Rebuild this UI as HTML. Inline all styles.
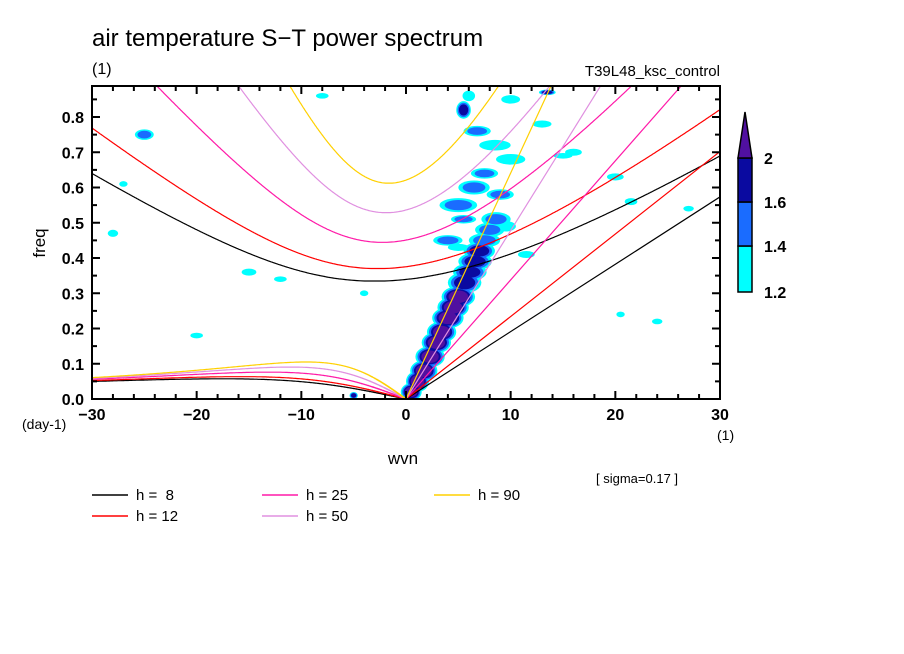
<!DOCTYPE html>
<html><head><meta charset="utf-8"><style>
body{margin:0;background:#fff;}
svg{display:block;font-family:"Liberation Sans",sans-serif;}
</style></head><body>
<svg id="chart" width="904" height="654" viewBox="0 0 904 654">
<defs><clipPath id="pc"><rect x="92" y="86" width="628" height="313"/></clipPath></defs>
<text x="92" y="46" font-size="24">air temperature S−T power spectrum</text>
<text x="92" y="74" font-size="16">(1)</text>
<text x="720" y="76" font-size="15" text-anchor="end">T39L48_ksc_control</text>
<g id="shade" clip-path="url(#pc)"></g>
<g id="curves" clip-path="url(#pc)"></g>
<g id="axes"></g>
<text x="45" y="243" font-size="17" text-anchor="middle" transform="rotate(-90 45 243)">freq</text>
<text x="403" y="464" font-size="17" text-anchor="middle">wvn</text>
<text x="22" y="429" font-size="14">(day-1)</text>
<text x="717" y="440" font-size="14">(1)</text>
<text x="596" y="483" font-size="13">[ sigma=0.17 ]</text>
<g id="colorbar"></g>
<g id="legend"></g>
</svg>
<script>
const NS='http://www.w3.org/2000/svg';
const hValues=[8,12,25,50,90];
const hColors=['#000000','#ff0000','#ff1aa8','#e090e0','#ffd000'];
const xTicks=[-30,-20,-10,0,10,20,30];
const yTicks=[0.0,0.1,0.2,0.3,0.4,0.5,0.6,0.7,0.8];
const levelLabels=['1.2','1.4','1.6','2'];
const levelColors=['#00ffff','#1a6cff','#0a0aa0','#5010a0'];
// blobs: wvn, freq, half-width (wvn), half-height (freq), level
const blobWvn=[0.5,1.1,1.7,2.3,2.9,3.4,4.0,4.5,5.0,5.6,6.1,6.6,7.0,7.5,8.0,8.6,5.0,4.0,6.5,7.5,9.0,10.0,8.5,5.5,6.8,9.5,11.5,6.0,-5.0,2.5,-15,-28,-25,-20,-12,-8,5,10,13,16,20,24,27,15,-27,5.5,-4,13.5,20.5,21.5];
const blobFrq=[0.02,0.05,0.08,0.12,0.16,0.19,0.23,0.26,0.29,0.33,0.36,0.39,0.42,0.45,0.48,0.51,0.55,0.45,0.60,0.64,0.58,0.68,0.72,0.82,0.76,0.49,0.41,0.86,0.01,0.17,0.36,0.47,0.75,0.18,0.34,0.86,0.43,0.85,0.78,0.70,0.63,0.22,0.54,0.69,0.61,0.51,0.30,0.87,0.24,0.56];
const blobRw=[1.0,1.1,1.3,1.4,1.4,1.4,1.5,1.5,1.6,1.6,1.6,1.6,1.5,1.5,1.4,1.4,1.8,1.4,1.5,1.3,1.3,1.4,1.5,0.7,1.3,1.0,0.8,0.6,0.4,0.8,0.7,0.5,0.9,0.6,0.6,0.6,1.0,0.9,0.9,0.8,0.8,0.5,0.5,0.9,0.4,1.2,0.4,0.8,0.4,0.6];
const blobRf=[0.025,0.03,0.03,0.03,0.03,0.03,0.03,0.03,0.03,0.03,0.025,0.025,0.025,0.02,0.02,0.02,0.02,0.015,0.02,0.015,0.015,0.015,0.015,0.025,0.015,0.015,0.01,0.015,0.01,0.01,0.01,0.01,0.015,0.008,0.008,0.008,0.01,0.012,0.01,0.01,0.01,0.008,0.008,0.008,0.008,0.012,0.008,0.008,0.008,0.01];
const blobLev=[3,3,3,3,3,3,3,3,3,2,2,2,2,1,1,1,1,1,1,1,1,0,0,2,1,0,0,0,2,0,0,0,1,0,0,0,0,0,0,0,0,0,0,0,0,1,0,2,0,0];

const X=s=>406+s*(628/60);
const Y=f=>399-f*352.5;
function mk(tag,attrs,parent){const e=document.createElementNS(NS,tag);for(const k in attrs)e.setAttribute(k,attrs[k]);parent.appendChild(e);return e;}

const shade=document.getElementById('shade');
for(let L=0;L<4;L++){
  for(let i=0;i<blobWvn.length;i++){
    if(blobLev[i]<L)continue;
    const scale=(blobLev[i]-L+1)/(blobLev[i]+1);
    const e=mk('ellipse',{cx:X(blobWvn[i]),cy:Y(blobFrq[i]),rx:blobRw[i]*(628/60)*(0.45+0.55*scale),ry:blobRf[i]*352.5*(0.45+0.55*scale),fill:levelColors[L]},shade);
    
    
  }
}

const R=6.371e6,beta=2*7.292e-5/R,g=9.8,toCpd=86400/(2*Math.PI);
const curves=document.getElementById('curves');
function pathFrom(pts){return pts.filter(p=>isFinite(p[0])&&isFinite(p[1])&&Math.abs(p[0])<200&&p[1]<5).map((p,i)=>(i?'L':'M')+X(p[0]).toFixed(1)+' '+Y(p[1]).toFixed(1)).join(' ');}
hValues.forEach((h,hi)=>{
  const c=Math.sqrt(g*h),col=hColors[hi];
  let p=mk('path',{d:pathFrom([[0,0],[40,40/R*c*toCpd]]),stroke:col,'stroke-width':1.2,fill:'none'},curves);
  
  
  const er1=[],er2=[],ig1=[],ig2=[];
  const N=6000;
  for(let j=0;j<=N;j++){
    const w=Math.exp(Math.log(1e-8)+(Math.log(2e-4)-Math.log(1e-8))*j/N);
    const B=beta/w,C=3*beta/c-w*w/(c*c);
    const d=B*B-4*C;
    if(d<0)continue;
    const k1=(-B-Math.sqrt(d))/2,k2=(-B+Math.sqrt(d))/2;
    const f=w*toCpd;
    if(f<0.3){er1.push([k1*R,f]);er2.push([k2*R,f]);} else {ig1.push([k1*R,f]);ig2.push([k2*R,f]);}
  }
  const er=er1.concat(er2.slice().reverse());
  const ig=ig1.slice().reverse().concat(ig2);
  p=mk('path',{d:pathFrom(er),stroke:col,'stroke-width':1.2,fill:'none'},curves);
  
  
  p=mk('path',{d:pathFrom(ig),stroke:col,'stroke-width':1.2,fill:'none'},curves);
  
  
});

const ax=document.getElementById('axes');
let fr=mk('rect',{x:92,y:86,width:628,height:313,fill:'none',stroke:'#000','stroke-width':2},ax);


for(let s=-30;s<=30;s+=2){
  const maj=s%10===0,l=maj?8:5;
  mk('line',{x1:X(s),x2:X(s),y1:399,y2:399-l,stroke:'#000','stroke-width':2},ax);
  mk('line',{x1:X(s),x2:X(s),y1:86,y2:86+l,stroke:'#000','stroke-width':2},ax);
}
for(let k=0;k<=17;k++){
  const f=k*0.05,maj=k%2===0,l=maj?8:5;
  mk('line',{x1:92,x2:92+l,y1:Y(f),y2:Y(f),stroke:'#000','stroke-width':2},ax);
  mk('line',{x1:720,x2:720-l,y1:Y(f),y2:Y(f),stroke:'#000','stroke-width':2},ax);
}
xTicks.forEach(t=>{const e=mk('text',{x:X(t),y:420,'font-size':16,'font-weight':'bold','text-anchor':'middle'},ax);e.textContent=(t<0?'−':'')+Math.abs(t);
  
  });
yTicks.forEach(t=>{const e=mk('text',{x:84,y:Y(t)+6,'font-size':16,'font-weight':'bold','text-anchor':'end'},ax);e.textContent=t.toFixed(1);
  
  });

const cb=document.getElementById('colorbar');
const segY=[292,246,202,158];
for(let i=0;i<3;i++){const r=mk('rect',{x:738,y:segY[i+1],width:14,height:segY[i]-segY[i+1],fill:levelColors[i],stroke:'#000','stroke-width':1.5},cb);
  
  }
let tri=mk('polygon',{points:'738,158 752,158 745,112',fill:levelColors[3],stroke:'#000','stroke-width':1.5},cb);


[292,246,202,158].forEach((y,i)=>{const t=mk('text',{x:764,y:y+6,'font-size':16,'font-weight':'bold'},cb);t.textContent=levelLabels[i];
  
  });

const lg=document.getElementById('legend');
const legX=[92,92,262,262,434],legY=[495,516,495,516,495];
hValues.forEach((h,i)=>{
  const g2=mk('g',{},lg);
  
  
  mk('line',{x1:legX[i],x2:legX[i]+36,y1:legY[i],y2:legY[i],stroke:hColors[i],'stroke-width':1.5},g2);
  const t=mk('text',{x:legX[i]+44,y:legY[i]+5,'font-size':15},g2);
  t.style.whiteSpace='pre';
  t.textContent='h = '+(h<10?' ':'')+h;
});
</script>
</body></html>
